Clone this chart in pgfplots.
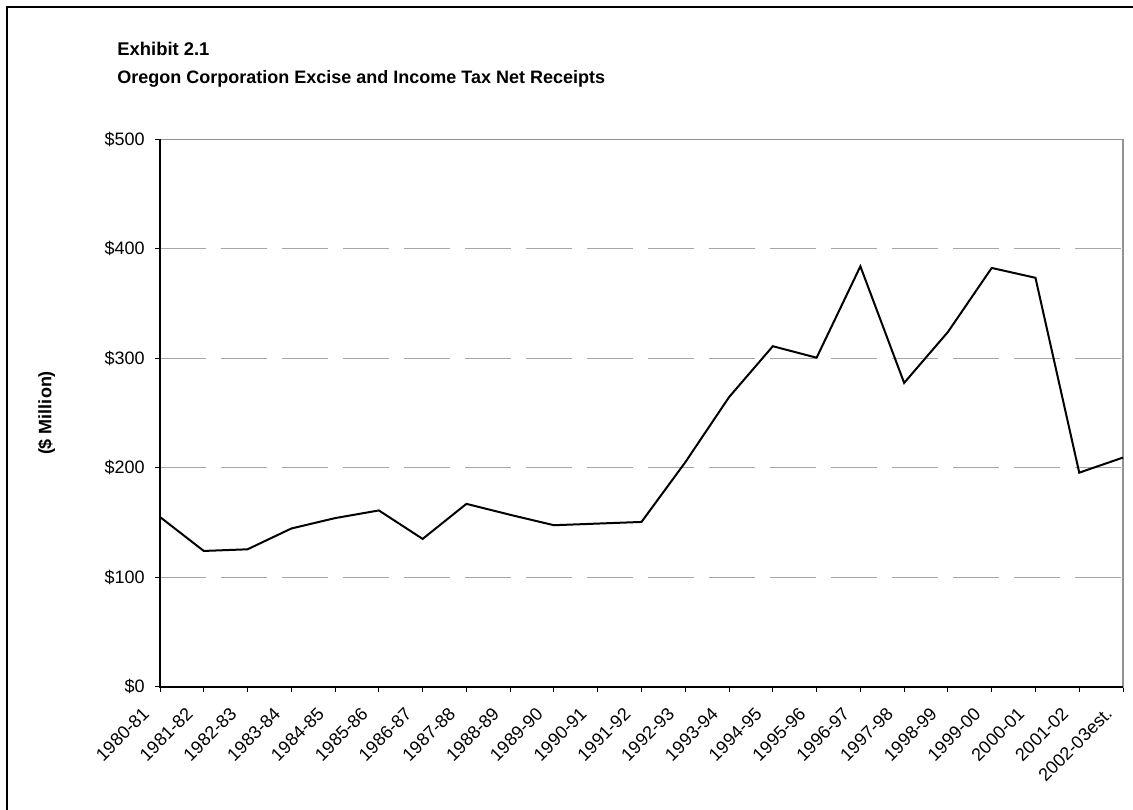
\documentclass[border=0pt]{standalone}
\usepackage{pgfplots}
\pgfplotsset{compat=1.18}
\usepackage{fontspec}
\setmainfont{Liberation Sans}

\pgfplotstableread{
x y
0 155
1 124
2 125.5
3 144.5
4 154
5 161
6 135
7 167
8 157
9 147.5
10 149
11 150.5
12 205
13 264.5
14 311
15 300.5
16 384
17 277.5
18 324
19 382.5
20 373.5
21 195.5
22 209.3
}\receipts

\begin{document}
\begin{tikzpicture}
\useasboundingbox (0pt,0pt) rectangle (566.5pt,404.5pt);
\draw[line width=1pt] (3.5pt,-20pt) -- (3.5pt,401pt) -- (620pt,401pt);
\node[anchor=base west, inner sep=0pt, font=\bfseries\fontsize{9.2}{11}\selectfont] at (58.5pt,376.5pt) {Exhibit 2.1};
\node[anchor=base west, inner sep=0pt, font=\bfseries\fontsize{9}{11}\selectfont] at (58.5pt,362.85pt) {Oregon Corporation Excise and Income Tax Net Receipts};
\node[rotate=90, inner sep=0pt, font=\bfseries\fontsize{9}{11}\selectfont] at (23.3pt,198pt) {(\$ Million)};
\begin{axis}[
  at={(80pt,61.15pt)}, anchor=south west,
  scale only axis, width=481.5pt, height=273.7pt,
  xmin=0, xmax=22, ymin=0, ymax=500,
  axis line style={draw=gray!85, line width=0.8pt},
  xtick={0,...,22},
  xticklabels={1980-81,1981-82,1982-83,1983-84,1984-85,1985-86,1986-87,1987-88,1988-89,1989-90,1990-91,1991-92,1992-93,1993-94,1994-95,1995-96,1996-97,1997-98,1998-99,1999-00,2000-01,2001-02,2002-03est.},
  ytick={0,100,200,300,400,500},
  yticklabels={\$0,\$100,\$200,\$300,\$400,\$500},
  tick align=outside, major tick length=2.5pt,
  xtick pos=bottom, ytick pos=left,
  tick style={black, line width=0.5pt},
  xticklabel style={font=\fontsize{9}{11}\selectfont, inner sep=0pt, xshift=-7pt, yshift=-9.5pt, rotate=45, anchor=east},
  yticklabel style={font=\fontsize{9}{11}\selectfont, inner sep=0pt, anchor=east, xshift=-5pt},
  ymajorgrids, grid style={gray!70, line width=0.5pt, dash pattern=on 23pt off 7.5pt},
  /pgf/number format/assume math mode=true,
  clip=false,
]
\addplot[black, line width=1pt, mark=none] table[x=x, y=y] {\receipts};
\draw[black, line width=0.8pt] (rel axis cs:0,1) -- (rel axis cs:0,0) -- (rel axis cs:1,0);
\end{axis}
\end{tikzpicture}
\end{document}
